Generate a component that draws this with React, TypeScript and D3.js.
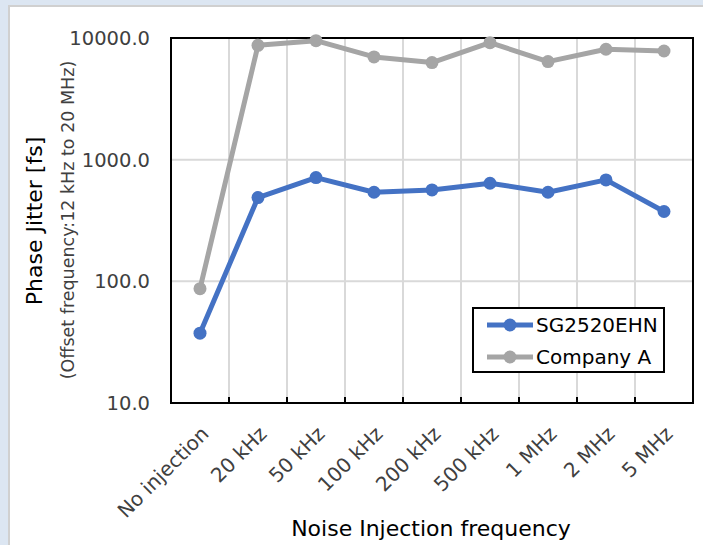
import React, { useEffect, useRef } from "react";
import * as d3 from "d3";

const categories = ["No injection", "20 kHz", "50 kHz", "100 kHz", "200 kHz", "500 kHz", "1 MHz", "2 MHz", "5 MHz"];
const sgValues = [37.5, 488, 712, 540, 564, 640, 540, 682, 375];
const companyAValues = [87, 8710, 9510, 6990, 6280, 9150, 6400, 8080, 7820];
const yTicks = [10, 100, 1000, 10000];
const seriesNames = ["SG2520EHN", "Company A"];
const seriesColors = ["#4472c4", "#a5a5a5"];

const W = 703;
const H = 545;
const FONT = "'DejaVu Sans', Verdana, sans-serif";

export default function App() {
  const ref = useRef<SVGSVGElement>(null);

  useEffect(() => {
    const svg = d3.select(ref.current);
    svg.selectAll("*").remove();

    // background panel
    svg.append("rect").attr("width", W).attr("height", H).attr("fill", "#dce6f2");
    svg.append("rect").attr("x", 9).attr("y", 6).attr("width", W).attr("height", H)
      .attr("fill", "#fff").attr("stroke", "#d0d0d0").attr("stroke-width", 2);

    const left = 171, right = 693, top = 38, bottom = 403;

    const x = d3.scaleBand().domain(categories).range([left, right]);
    const y = d3.scaleLog().domain([10, 10000]).range([bottom, top]);

    // gridlines
    const grid = svg.append("g");
    grid.selectAll("line.h").data(yTicks.slice(1, 3)).enter().append("line")
      .attr("x1", left).attr("x2", right)
      .attr("y1", (d) => y(d)).attr("y2", (d) => y(d))
      .attr("stroke", "#d9d9d9").attr("stroke-width", 2);
    grid.selectAll("line.v").data(categories.slice(1)).enter().append("line")
      .attr("x1", (d) => x(d)!).attr("x2", (d) => x(d)!)
      .attr("y1", top).attr("y2", bottom)
      .attr("stroke", "#d9d9d9").attr("stroke-width", 2);

    // tick marks at bottom
    grid.selectAll("line.t").data(categories.slice(1)).enter().append("line")
      .attr("x1", (d) => x(d)!).attr("x2", (d) => x(d)!)
      .attr("y1", bottom - 6).attr("y2", bottom)
      .attr("stroke", "#000").attr("stroke-width", 2);

    // frame
    svg.append("rect").attr("x", left).attr("y", top)
      .attr("width", right - left).attr("height", bottom - top)
      .attr("fill", "none").attr("stroke", "#000").attr("stroke-width", 2);

    // y tick labels
    svg.selectAll("text.yt").data(yTicks).enter().append("text")
      .attr("x", 150).attr("y", (d) => y(d) + 7)
      .attr("text-anchor", "end").attr("font-family", FONT).attr("font-size", 19.5)
      .attr("fill", "#404040")
      .text((d) => d3.format(".1f")(d));

    // x tick labels
    svg.selectAll("text.xt").data(categories).enter().append("text")
      .attr("transform", (d) => `translate(${x(d)! + x.bandwidth() / 2 + 10},${bottom + 32}) rotate(-45)`)
      .attr("text-anchor", "end").attr("font-family", FONT).attr("font-size", 20)
      .attr("fill", "#404040")
      .text((d) => d);

    // axis titles
    svg.append("text")
      .attr("transform", `translate(42,221) rotate(-90)`)
      .attr("text-anchor", "middle").attr("font-family", FONT).attr("font-size", 22)
      .attr("fill", "#000").text("Phase Jitter [fs]");
    svg.append("text")
      .attr("transform", `translate(74,220) rotate(-90)`)
      .attr("text-anchor", "middle").attr("font-family", FONT).attr("font-size", 17.5)
      .attr("fill", "#404040").text("(Offset frequency:12 kHz to 20 MHz)");
    svg.append("text")
      .attr("x", 431).attr("y", 536)
      .attr("text-anchor", "middle").attr("font-family", FONT).attr("font-size", 22)
      .attr("fill", "#000").text("Noise Injection frequency");

    // series
    const line = d3.line<number>()
      .x((_, i) => x(categories[i])! + x.bandwidth() / 2)
      .y((d) => y(d));
    [companyAValues, sgValues].forEach((vals, k) => {
      const color = k === 0 ? seriesColors[1] : seriesColors[0];
      svg.append("path").datum(vals).attr("d", line)
        .attr("fill", "none").attr("stroke", color).attr("stroke-width", 5)
        .attr("stroke-linejoin", "round");
      svg.append("g").selectAll("circle").data(vals).enter().append("circle")
        .attr("cx", (_, i) => x(categories[i])! + x.bandwidth() / 2)
        .attr("cy", (d) => y(d)).attr("r", 6.5).attr("fill", color);
    });

    // legend
    const lg = svg.append("g");
    lg.append("rect").attr("x", 473).attr("y", 308).attr("width", 191).attr("height", 64)
      .attr("fill", "#fff").attr("stroke", "#000").attr("stroke-width", 2);
    seriesNames.forEach((name, i) => {
      const cy = 325 + i * 32;
      lg.append("line").attr("x1", 487).attr("x2", 533).attr("y1", cy).attr("y2", cy)
        .attr("stroke", seriesColors[i]).attr("stroke-width", 5);
      lg.append("circle").attr("cx", 510).attr("cy", cy).attr("r", 6.5).attr("fill", seriesColors[i]);
      lg.append("text").attr("x", 536).attr("y", cy + 7)
        .attr("font-family", FONT).attr("font-size", 20).attr("fill", "#000").text(name);
    });
  }, []);

  return (
    <svg ref={ref} width={W} height={H}
      style={{ position: "absolute", left: 0, top: 0, display: "block" }} />
  );
}
